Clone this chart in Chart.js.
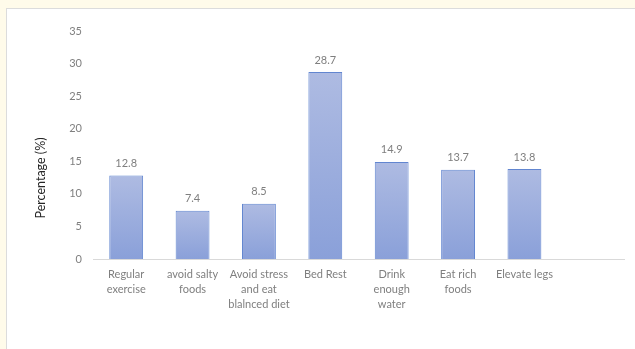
<!DOCTYPE html>
<html>
<head>
<meta charset="utf-8">
<script src="https://cdn.jsdelivr.net/npm/chart.js@4"></script>
<style>
  html, body { margin: 0; padding: 0; }
  body { width: 635px; height: 349px; background: #fffbea; position: relative; overflow: hidden; }
  #card { position: absolute; left: 6px; top: 8px; width: 629px; height: 341px; background: #fff;
          border-left: 1px solid #dcdcdc; border-top: 1px solid #dcdcdc; box-sizing: border-box; }
  #wrap { position: absolute; left: 1px; top: 1px; width: 628px; height: 340px; }
</style>
</head>
<body>
<div id="card"><div id="wrap"><canvas id="chart"></canvas></div></div>
<script>
// Chart data
const categories = [
    ['Regular', 'exercise'],
    ['avoid salty', 'foods'],
    ['Avoid stress', 'and eat', 'blalnced diet'],
    'Bed Rest',
    ['Drink', 'enough', 'water'],
    ['Eat rich', 'foods'],
    'Elevate legs',
    ''
];
const percentages = [12.8, 7.4, 8.5, 28.7, 14.9, 13.7, 13.8, null];
const yTicks = [0, 5, 10, 15, 20, 25, 30, 35];

const fontFamily = 'Lato, "Open Sans", sans-serif';

function barFill(context) {
    const chart = context.chart;
    const value = context.raw;
    if (!chart.chartArea || value == null) return '#9cadde';
    const yScale = chart.scales.y;
    const top = yScale.getPixelForValue(value);
    const base = yScale.getPixelForValue(0);
    const grad = chart.ctx.createLinearGradient(0, top, 0, base);
    grad.addColorStop(0, '#aebbe2');
    grad.addColorStop(1, '#8aa0d9');
    return grad;
}

// value labels above bars
const valueLabels = {
    id: 'valueLabels',
    afterDatasetsDraw(chart) {
        const ctx = chart.ctx;
        const meta = chart.getDatasetMeta(0);
        ctx.save();
        ctx.font = '11px ' + fontFamily;
        ctx.fillStyle = '#7f7f7f';
        ctx.textAlign = 'center';
        ctx.textBaseline = 'middle';
        meta.data.forEach((bar, i) => {
            const v = percentages[i];
            if (v == null) return;
            ctx.fillText(v.toFixed(1), bar.x, bar.y - 12);
        });
        ctx.restore();
    }
};

// y axis title, centred on the whole panel like the original
const yTitle = {
    id: 'yTitle',
    afterDraw(chart) {
        const ctx = chart.ctx;
        ctx.save();
        ctx.translate(33, 168);
        ctx.rotate(-Math.PI / 2);
        ctx.font = '12.5px ' + fontFamily;
        ctx.fillStyle = '#262626';
        ctx.textAlign = 'center';
        ctx.textBaseline = 'middle';
        ctx.fillText('Percentage (%)', 0, 0);
        ctx.restore();
    }
};

const ctx = document.getElementById('chart').getContext('2d');
const chart = new Chart(ctx, {
    type: 'bar',
    data: {
        labels: categories,
        datasets: [{
            data: percentages,
            backgroundColor: barFill,
            borderColor: '#6286d0',
            borderWidth: 1,
            categoryPercentage: 1,
            barPercentage: 0.51
        }]
    },
    options: {
        responsive: true,
        maintainAspectRatio: false,
        animation: false,
        layout: { padding: { left: 0, right: 12, top: 21, bottom: 0 } },
        plugins: {
            legend: { display: false },
            tooltip: { enabled: false }
        },
        scales: {
            x: {
                grid: { display: false, drawTicks: false },
                border: { display: true, color: '#d9d9d9', width: 1 },
                ticks: {
                    color: '#7f7f7f',
                    font: { family: fontFamily, size: 11, lineHeight: 1.36 },
                    padding: 8,
                    maxRotation: 0,
                    autoSkip: false
                },
                afterFit(scale) { scale.height = 91; }
            },
            y: {
                min: 0,
                max: 35,
                afterBuildTicks(scale) { scale.ticks = yTicks.map(v => ({ value: v })); },
                grid: { display: false, drawTicks: false },
                border: { display: false },
                ticks: {
                    color: '#7f7f7f',
                    font: { family: fontFamily, size: 11 },
                    padding: 11
                },
                afterFit(scale) { scale.width = 85; }
            }
        }
    },
    plugins: [valueLabels, yTitle]
});
</script>
</body>
</html>
